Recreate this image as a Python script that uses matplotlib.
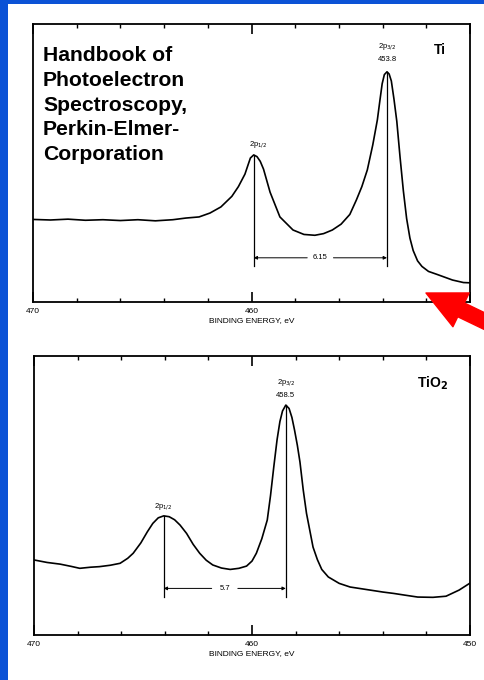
import matplotlib.pyplot as plt
from matplotlib.patches import Rectangle

# Ti metal spectrum (binding energy in eV, intensity in % of panel height)
ti_energy = [470.0, 469.2, 468.4, 467.6, 466.8, 466.0, 465.2, 464.4, 463.6, 463.0,
             462.4, 461.9, 461.4, 460.9, 460.6, 460.3, 460.15, 460.05, 459.9, 459.75,
             459.6, 459.45, 459.15, 458.7, 458.1, 457.6, 457.1, 456.7, 456.3, 455.9,
             455.5, 455.2, 454.95, 454.7, 454.45, 454.24, 454.12, 454.02, 453.92, 453.8,
             453.7, 453.6, 453.48, 453.35, 453.2, 453.05, 452.9, 452.75, 452.6, 452.4,
             452.2, 451.9, 451.5, 450.8, 450.3, 450.0]
ti_counts = [29.7, 29.5, 29.8, 29.4, 29.6, 29.3, 29.6, 29.2, 29.6, 30.2,
             30.6, 32.0, 34.2, 38.0, 41.5, 46.0, 49.5, 51.8, 52.9, 52.3,
             50.6, 47.8, 39.5, 30.6, 25.9, 24.3, 24.0, 24.6, 25.9, 28.0,
             31.5, 36.7, 41.5, 47.5, 56.5, 65.5, 72.7, 78.5, 81.8, 82.8,
             82.0, 79.5, 73.0, 65.0, 52.0, 40.0, 30.0, 23.0, 18.5, 14.8,
             12.8, 11.0, 9.9, 7.9, 7.0, 6.9]
ti_peaks = [459.9, 453.8]

# TiO2 spectrum
tio2_energy = [470.0, 469.4, 468.8, 468.3, 467.9, 467.4, 467.0, 466.5, 466.05, 465.7,
               465.45, 465.1, 464.8, 464.55, 464.3, 464.05, 463.8, 463.55, 463.3, 463.0,
               462.7, 462.4, 462.1, 461.8, 461.4, 461.0, 460.6, 460.25, 460.0, 459.8,
               459.55, 459.3, 459.15, 459.0, 458.85, 458.72, 458.6, 458.45, 458.3, 458.17,
               458.05, 457.92, 457.8, 457.65, 457.5, 457.2, 457.0, 456.8, 456.5, 456.0,
               455.5, 455.0, 454.5, 454.0, 453.5, 453.0, 452.4, 451.7, 451.1, 450.5,
               450.0]
tio2_counts = [26.9, 26.0, 25.4, 24.6, 23.9, 24.3, 24.5, 25.0, 25.7, 27.5,
               29.3, 33.0, 37.0, 40.0, 42.0, 42.7, 42.4, 41.3, 39.4, 36.4,
               32.5, 29.3, 26.8, 25.1, 24.0, 23.5, 23.9, 24.7, 26.5, 29.3,
               34.5, 41.2, 50.0, 60.3, 70.0, 76.5, 80.3, 82.4, 81.2, 78.0,
               73.5, 68.0, 62.0, 52.0, 43.6, 31.5, 27.0, 23.5, 20.8, 18.5,
               17.2, 16.6, 16.0, 15.4, 14.9, 14.3, 13.6, 13.5, 13.9, 16.1,
               18.6]
tio2_peaks = [464.05, 458.45]

tick_labels = ['470', '460', '450']
source_text = 'Handbook of\nPhotoelectron\nSpectroscopy,\nPerkin-Elmer-\nCorporation'

plt.rcParams['font.family'] = ['Liberation Sans', 'DejaVu Sans']


def draw_spectrum(ax, energy, counts, peaks, split_text, line_bottom, arrow_y, labels):
    ax.plot(energy, counts, color='black', lw=1.2)
    ax.set_xlim(470, 450)
    ax.set_ylim(0, 100)
    ax.set_yticks([])
    ax.set_xticks([470, 460, 450])
    ax.set_xticklabels(labels, fontsize=6)
    ax.set_xticks(range(450, 471, 2), minor=True)
    ax.tick_params(axis='x', which='major', direction='in', length=7, width=1.2,
                   top=True, pad=4)
    ax.tick_params(axis='x', which='minor', direction='in', length=3, width=1.0,
                   top=True)
    for sp in ax.spines.values():
        sp.set_linewidth(1.3)
    ax.set_xlabel('BINDING ENERGY, eV', fontsize=6, labelpad=2)

    # marker lines from each peak down, with the splitting arrow
    for p in peaks:
        top = counts[energy.index(p)]
        ax.plot([p, p], [top, line_bottom], color='black', lw=0.9)
    mid = (peaks[0] + peaks[1]) / 2
    ax.annotate('', xy=(peaks[0], arrow_y), xytext=(mid + 0.6, arrow_y),
                arrowprops=dict(arrowstyle='-|>', lw=0.7, color='black',
                                mutation_scale=5, shrinkA=0, shrinkB=0))
    ax.annotate('', xy=(peaks[1], arrow_y), xytext=(mid - 0.6, arrow_y),
                arrowprops=dict(arrowstyle='-|>', lw=0.7, color='black',
                                mutation_scale=5, shrinkA=0, shrinkB=0))
    ax.text(mid, arrow_y, split_text, fontsize=5.5, ha='center', va='center')


fig = plt.figure(figsize=(4.84, 6.8), dpi=100)
fig.patch.set_facecolor('#0b52d6')
fig.add_artist(Rectangle((8 / 484, 0), 1, 1 - 4 / 680, transform=fig.transFigure,
                         facecolor='white', edgecolor='none', zorder=0))

ax1 = fig.add_axes([33 / 484, 1 - 302 / 680, 437 / 484, 278 / 680])
ax2 = fig.add_axes([34 / 484, 1 - 635 / 680, 436 / 484, 279 / 680])

# the 450 label of the top panel is covered by the red arrow in the original
draw_spectrum(ax1, ti_energy, ti_counts, ti_peaks, '6.15', 12.8, 15.9,
              tick_labels[:2] + [''])
draw_spectrum(ax2, tio2_energy, tio2_counts, tio2_peaks, '5.7', 13.6, 16.7,
              tick_labels)

# top panel labels
ax1.text(0.023, 0.92, source_text, transform=ax1.transAxes, fontsize=15.2,
         fontweight='bold', va='top', ha='left', linespacing=1.38)
ax1.text(0.931, 0.906, 'Ti', transform=ax1.transAxes, fontsize=10,
         fontweight='bold', ha='center', va='center')
ax1.text(ti_peaks[1], 91.8, r'2p$_{3/2}$', fontsize=5.5, ha='center', va='center')
ax1.text(ti_peaks[1], 87.3, '453.8', fontsize=5.5, ha='center', va='center')
ax1.text(ti_peaks[0] - 0.2, 56.5, r'2p$_{1/2}$', fontsize=5.5, ha='center', va='center')

# bottom panel labels
ax2.text(0.915, 0.903, r'TiO$_\mathbf{2}$', transform=ax2.transAxes, fontsize=10,
         fontweight='bold', ha='center', va='center')
ax2.text(tio2_peaks[1], 90.3, r'2p$_{3/2}$', fontsize=5.5, ha='center', va='center')
ax2.text(tio2_peaks[1], 85.7, '458.5', fontsize=5.5, ha='center', va='center')
ax2.text(tio2_peaks[0], 46.0, r'2p$_{1/2}$', fontsize=5.5, ha='center', va='center')

# red pointer arrow at the right end of the Ti spectrum
ax1.annotate('', xy=(426, 680 - 293), xycoords='figure pixels',
             xytext=(505, 680 - 331), textcoords='figure pixels',
             annotation_clip=False, zorder=10,
             arrowprops=dict(arrowstyle='simple,head_length=2.8,head_width=2.7,tail_width=1.1',
                             color='#ff0000', mutation_scale=10, shrinkA=0, shrinkB=0))

fig.savefig('out.png', dpi=100, facecolor=fig.get_facecolor())
